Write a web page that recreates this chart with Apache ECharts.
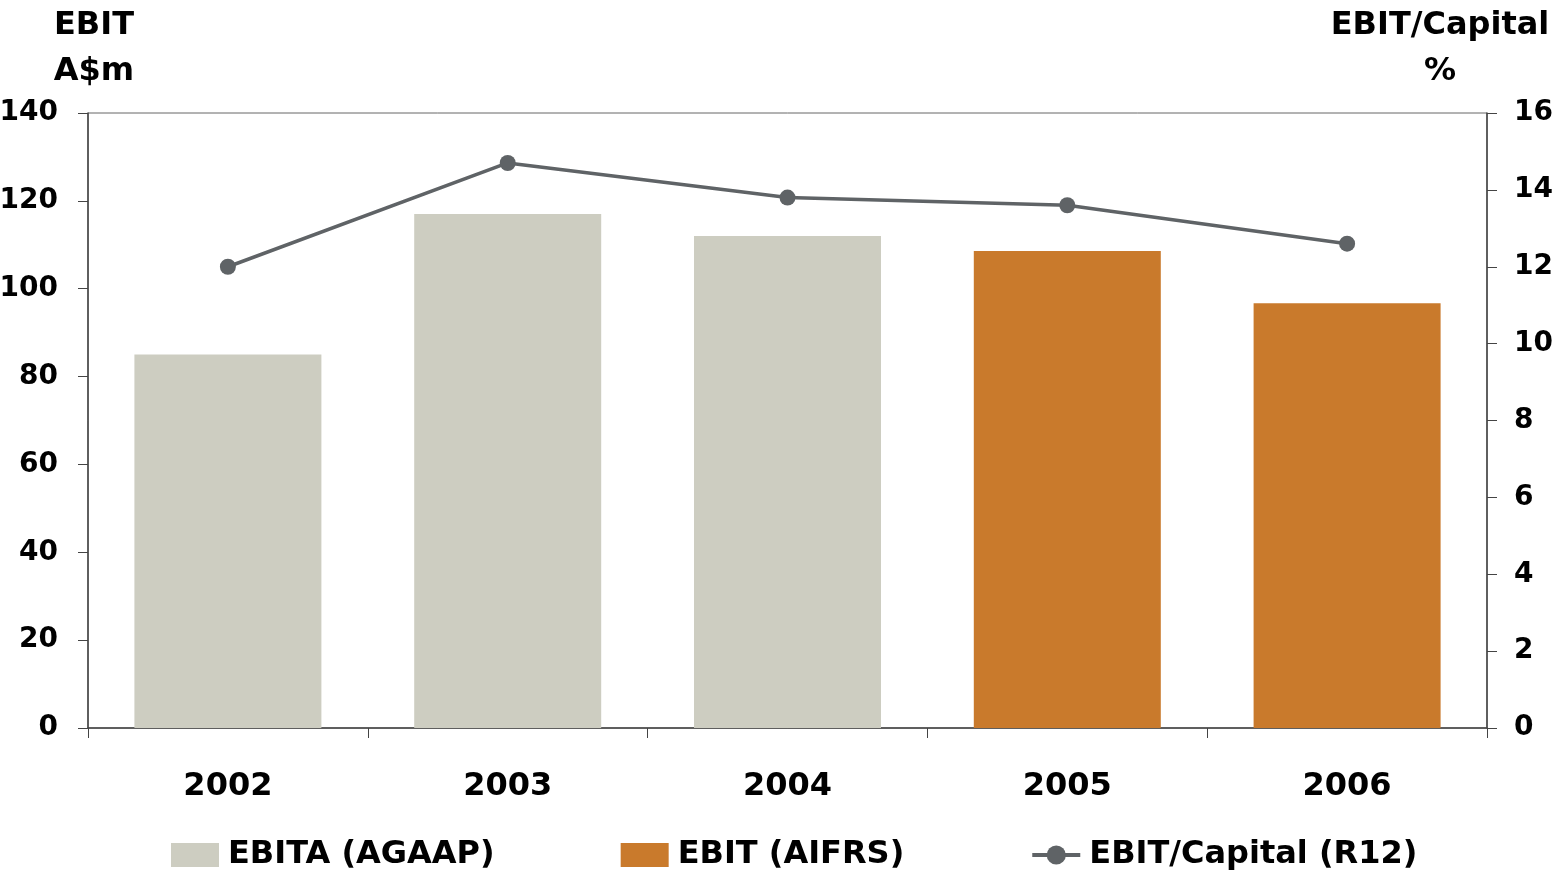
<!DOCTYPE html>
<html>
<head>
<meta charset="utf-8">
<script src="https://cdn.jsdelivr.net/npm/echarts@6/dist/echarts.min.js"></script>
<style>
  html, body { margin: 0; padding: 0; background: #fff; }
  #chart { width: 1554px; height: 874px; }
</style>
</head>
<body>
<div id="chart"></div>
<script>
// Categories and values
const years = ['2002', '2003', '2004', '2005', '2006'];
const ebitaAgaap = [85, 117, 112, '-', '-'];      // A$m
const ebitAifrs = ['-', '-', '-', 108.6, 96.7];    // A$m
const ebitCapital = [12.0, 14.7, 13.8, 13.6, 12.6]; // %

const FONT = 'DejaVu Sans';
const AXIS = '#444';
const LINE = '#5F6366';

const chart = echarts.init(document.getElementById('chart'), null, { renderer: 'canvas' });
chart.setOption({
  animation: false,
  textStyle: { fontFamily: FONT, color: '#000', fontWeight: 'bold' },
  title: [
    { text: 'EBIT\nA$m', left: 89, top: -2, textAlign: 'center',
      textStyle: { fontFamily: FONT, fontSize: 32, fontWeight: 'bold', color: '#000', lineHeight: 46 } },
    { text: 'EBIT/Capital\n%', left: 1435, top: -2, textAlign: 'center',
      textStyle: { fontFamily: FONT, fontSize: 32, fontWeight: 'bold', color: '#000', lineHeight: 46, align: 'center' } }
  ],
  grid: { left: 88, right: 67, top: 113, bottom: 146, show: true, borderColor: '#666', borderWidth: 1,
          containLabel: false, outerBoundsMode: 'none' },
  legend: {
    bottom: -2, left: 166, itemGap: 126, itemWidth: 48, itemHeight: 24,
    textStyle: { fontFamily: FONT, fontSize: 32, fontWeight: 'bold', color: '#000', padding: [0, 0, 0, 4] },
    data: [
      { name: 'EBITA (AGAAP)', icon: 'rect' },
      { name: 'EBIT (AIFRS)', icon: 'rect' },
      { name: 'EBIT/Capital (R12)', lineStyle: { width: 4, color: LINE } }
    ]
  },
  xAxis: {
    type: 'category', data: years,
    axisLine: { lineStyle: { color: AXIS, width: 1.5 } },
    axisTick: { show: true, length: 10, lineStyle: { color: AXIS } },
    axisLabel: { fontFamily: FONT, fontSize: 32, fontWeight: 'bold', color: '#000', margin: 43 }
  },
  yAxis: [
    { type: 'value', min: 0, max: 140, interval: 20,
      axisLine: { show: true, lineStyle: { color: AXIS, width: 1.5 } },
      axisTick: { show: true, length: 10, lineStyle: { color: AXIS } },
      splitLine: { show: false },
      axisLabel: { fontFamily: FONT, fontSize: 28, fontWeight: 'bold', color: '#000', margin: 30 } },
    { type: 'value', min: 0, max: 16, interval: 2, position: 'right',
      axisLine: { show: true, lineStyle: { color: AXIS, width: 1.5 } },
      axisTick: { show: true, length: 10, lineStyle: { color: AXIS } },
      splitLine: { show: false },
      axisLabel: { fontFamily: FONT, fontSize: 28, fontWeight: 'bold', color: '#000', margin: 27 } }
  ],
  series: [
    { name: 'EBITA (AGAAP)', type: 'bar', stack: 'ebit', data: ebitaAgaap,
      barWidth: 187, itemStyle: { color: '#CDCDC1' } },
    { name: 'EBIT (AIFRS)', type: 'bar', stack: 'ebit', data: ebitAifrs,
      barWidth: 187, itemStyle: { color: '#C97A2C' } },
    { name: 'EBIT/Capital (R12)', type: 'line', yAxisIndex: 1, data: ebitCapital,
      symbol: 'circle', symbolSize: 16, lineStyle: { color: LINE, width: 3.5 },
      itemStyle: { color: LINE } }
  ]
});
</script>
</body>
</html>
